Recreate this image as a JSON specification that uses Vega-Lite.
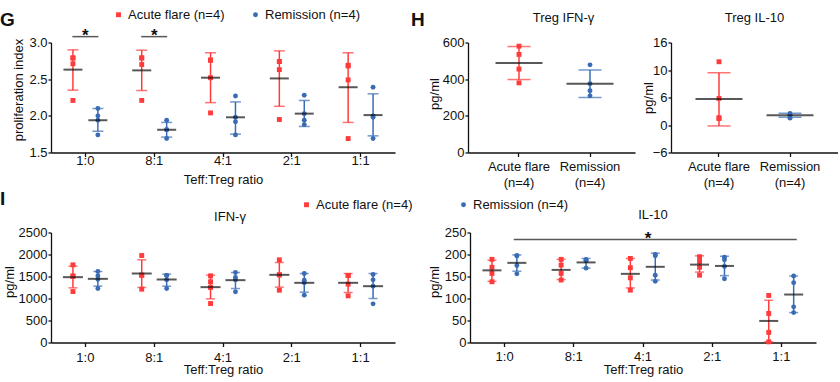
{
  "$schema": "https://vega.github.io/schema/vega-lite/v6.json",
  "padding": {"left": 0, "top": 7.5, "right": 0, "bottom": 0},
  "background": "white",
  "config": {
    "font": "Liberation Sans",
    "view": {"stroke": null},
    "axis": {"domainColor": "#111", "domainWidth": 1.3, "tickColor": "#111", "tickWidth": 1.3, "tickSize": 4, "labelColor": "#111", "labelFontSize": 13, "labelOverlap": false, "titleColor": "#111", "titleFontSize": 13, "titleFontWeight": "normal", "grid": false},
    "axisY": {"tickSize": 3, "labelPadding": 1, "labelOverlap": false},
    "title": {"fontSize": 13, "fontWeight": "normal", "color": "#111"},
    "legend": {"labelFontSize": 13, "labelColor": "#111", "symbolSize": 24, "labelOffset": 3, "padding": 0, "symbolStrokeWidth": 0}
  },
  "datasets": {
    "pts": [
      {"panel":"G","ratio":"1:0","group":"Acute flare (n=4)","value":2.79},
      {"panel":"G","ratio":"1:0","group":"Acute flare (n=4)","value":2.79},
      {"panel":"G","ratio":"1:0","group":"Acute flare (n=4)","value":2.71},
      {"panel":"G","ratio":"1:0","group":"Acute flare (n=4)","value":2.21},
      {"panel":"G","ratio":"1:0","group":"Remission (n=4)","value":2.10},
      {"panel":"G","ratio":"1:0","group":"Remission (n=4)","value":2.00},
      {"panel":"G","ratio":"1:0","group":"Remission (n=4)","value":1.94},
      {"panel":"G","ratio":"1:0","group":"Remission (n=4)","value":1.74},
      {"panel":"G","ratio":"8:1","group":"Acute flare (n=4)","value":2.79},
      {"panel":"G","ratio":"8:1","group":"Acute flare (n=4)","value":2.79},
      {"panel":"G","ratio":"8:1","group":"Acute flare (n=4)","value":2.70},
      {"panel":"G","ratio":"8:1","group":"Acute flare (n=4)","value":2.21},
      {"panel":"G","ratio":"8:1","group":"Remission (n=4)","value":1.94},
      {"panel":"G","ratio":"8:1","group":"Remission (n=4)","value":1.81},
      {"panel":"G","ratio":"8:1","group":"Remission (n=4)","value":1.81},
      {"panel":"G","ratio":"8:1","group":"Remission (n=4)","value":1.69},
      {"panel":"G","ratio":"4:1","group":"Acute flare (n=4)","value":2.76},
      {"panel":"G","ratio":"4:1","group":"Acute flare (n=4)","value":2.76},
      {"panel":"G","ratio":"4:1","group":"Acute flare (n=4)","value":2.52},
      {"panel":"G","ratio":"4:1","group":"Acute flare (n=4)","value":2.04},
      {"panel":"G","ratio":"4:1","group":"Remission (n=4)","value":2.27},
      {"panel":"G","ratio":"4:1","group":"Remission (n=4)","value":1.98},
      {"panel":"G","ratio":"4:1","group":"Remission (n=4)","value":1.92},
      {"panel":"G","ratio":"4:1","group":"Remission (n=4)","value":1.74},
      {"panel":"G","ratio":"2:1","group":"Acute flare (n=4)","value":2.74},
      {"panel":"G","ratio":"2:1","group":"Acute flare (n=4)","value":2.74},
      {"panel":"G","ratio":"2:1","group":"Acute flare (n=4)","value":2.63},
      {"panel":"G","ratio":"2:1","group":"Acute flare (n=4)","value":1.95},
      {"panel":"G","ratio":"2:1","group":"Remission (n=4)","value":2.28},
      {"panel":"G","ratio":"2:1","group":"Remission (n=4)","value":2.03},
      {"panel":"G","ratio":"2:1","group":"Remission (n=4)","value":1.94},
      {"panel":"G","ratio":"2:1","group":"Remission (n=4)","value":1.88},
      {"panel":"G","ratio":"1:1","group":"Acute flare (n=4)","value":2.69},
      {"panel":"G","ratio":"1:1","group":"Acute flare (n=4)","value":2.68},
      {"panel":"G","ratio":"1:1","group":"Acute flare (n=4)","value":2.49},
      {"panel":"G","ratio":"1:1","group":"Acute flare (n=4)","value":1.69},
      {"panel":"G","ratio":"1:1","group":"Remission (n=4)","value":2.39},
      {"panel":"G","ratio":"1:1","group":"Remission (n=4)","value":2.00},
      {"panel":"G","ratio":"1:1","group":"Remission (n=4)","value":1.98},
      {"panel":"G","ratio":"1:1","group":"Remission (n=4)","value":1.69},
      {"panel":"HL","group":"Acute flare (n=4)","value":580},
      {"panel":"HL","group":"Acute flare (n=4)","value":535},
      {"panel":"HL","group":"Acute flare (n=4)","value":455},
      {"panel":"HL","group":"Acute flare (n=4)","value":380},
      {"panel":"HL","group":"Remission (n=4)","value":478},
      {"panel":"HL","group":"Remission (n=4)","value":375},
      {"panel":"HL","group":"Remission (n=4)","value":337},
      {"panel":"HL","group":"Remission (n=4)","value":309},
      {"panel":"HR","group":"Acute flare (n=4)","value":13.8},
      {"panel":"HR","group":"Acute flare (n=4)","value":5.8},
      {"panel":"HR","group":"Acute flare (n=4)","value":1.6},
      {"panel":"HR","group":"Acute flare (n=4)","value":1.4},
      {"panel":"HR","group":"Remission (n=4)","value":2.5},
      {"panel":"HR","group":"Remission (n=4)","value":2.15},
      {"panel":"HR","group":"Remission (n=4)","value":2.15},
      {"panel":"HR","group":"Remission (n=4)","value":1.5},
      {"panel":"IL","ratio":"1:0","group":"Acute flare (n=4)","value":1765},
      {"panel":"IL","ratio":"1:0","group":"Acute flare (n=4)","value":1515},
      {"panel":"IL","ratio":"1:0","group":"Acute flare (n=4)","value":1500},
      {"panel":"IL","ratio":"1:0","group":"Acute flare (n=4)","value":1159},
      {"panel":"IL","ratio":"1:0","group":"Remission (n=4)","value":1614},
      {"panel":"IL","ratio":"1:0","group":"Remission (n=4)","value":1515},
      {"panel":"IL","ratio":"1:0","group":"Remission (n=4)","value":1439},
      {"panel":"IL","ratio":"1:0","group":"Remission (n=4)","value":1227},
      {"panel":"IL","ratio":"8:1","group":"Acute flare (n=4)","value":1977},
      {"panel":"IL","ratio":"8:1","group":"Acute flare (n=4)","value":1530},
      {"panel":"IL","ratio":"8:1","group":"Acute flare (n=4)","value":1530},
      {"panel":"IL","ratio":"8:1","group":"Acute flare (n=4)","value":1212},
      {"panel":"IL","ratio":"8:1","group":"Remission (n=4)","value":1523},
      {"panel":"IL","ratio":"8:1","group":"Remission (n=4)","value":1523},
      {"panel":"IL","ratio":"8:1","group":"Remission (n=4)","value":1424},
      {"panel":"IL","ratio":"8:1","group":"Remission (n=4)","value":1227},
      {"panel":"IL","ratio":"4:1","group":"Acute flare (n=4)","value":1515},
      {"panel":"IL","ratio":"4:1","group":"Acute flare (n=4)","value":1379},
      {"panel":"IL","ratio":"4:1","group":"Acute flare (n=4)","value":1250},
      {"panel":"IL","ratio":"4:1","group":"Acute flare (n=4)","value":886},
      {"panel":"IL","ratio":"4:1","group":"Remission (n=4)","value":1591},
      {"panel":"IL","ratio":"4:1","group":"Remission (n=4)","value":1477},
      {"panel":"IL","ratio":"4:1","group":"Remission (n=4)","value":1424},
      {"panel":"IL","ratio":"4:1","group":"Remission (n=4)","value":1152},
      {"panel":"IL","ratio":"2:1","group":"Acute flare (n=4)","value":1879},
      {"panel":"IL","ratio":"2:1","group":"Acute flare (n=4)","value":1538},
      {"panel":"IL","ratio":"2:1","group":"Acute flare (n=4)","value":1538},
      {"panel":"IL","ratio":"2:1","group":"Acute flare (n=4)","value":1189},
      {"panel":"IL","ratio":"2:1","group":"Remission (n=4)","value":1568},
      {"panel":"IL","ratio":"2:1","group":"Remission (n=4)","value":1417},
      {"panel":"IL","ratio":"2:1","group":"Remission (n=4)","value":1356},
      {"panel":"IL","ratio":"2:1","group":"Remission (n=4)","value":1076},
      {"panel":"IL","ratio":"1:1","group":"Acute flare (n=4)","value":1523},
      {"panel":"IL","ratio":"1:1","group":"Acute flare (n=4)","value":1523},
      {"panel":"IL","ratio":"1:1","group":"Acute flare (n=4)","value":1326},
      {"panel":"IL","ratio":"1:1","group":"Acute flare (n=4)","value":1061},
      {"panel":"IL","ratio":"1:1","group":"Remission (n=4)","value":1545},
      {"panel":"IL","ratio":"1:1","group":"Remission (n=4)","value":1424},
      {"panel":"IL","ratio":"1:1","group":"Remission (n=4)","value":1280},
      {"panel":"IL","ratio":"1:1","group":"Remission (n=4)","value":879},
      {"panel":"IR","ratio":"1:0","group":"Acute flare (n=4)","value":189},
      {"panel":"IR","ratio":"1:0","group":"Acute flare (n=4)","value":171},
      {"panel":"IR","ratio":"1:0","group":"Acute flare (n=4)","value":157},
      {"panel":"IR","ratio":"1:0","group":"Acute flare (n=4)","value":138},
      {"panel":"IR","ratio":"1:0","group":"Remission (n=4)","value":197},
      {"panel":"IR","ratio":"1:0","group":"Remission (n=4)","value":197},
      {"panel":"IR","ratio":"1:0","group":"Remission (n=4)","value":175},
      {"panel":"IR","ratio":"1:0","group":"Remission (n=4)","value":156},
      {"panel":"IR","ratio":"8:1","group":"Acute flare (n=4)","value":189},
      {"panel":"IR","ratio":"8:1","group":"Acute flare (n=4)","value":176},
      {"panel":"IR","ratio":"8:1","group":"Acute flare (n=4)","value":157},
      {"panel":"IR","ratio":"8:1","group":"Acute flare (n=4)","value":142},
      {"panel":"IR","ratio":"8:1","group":"Remission (n=4)","value":189},
      {"panel":"IR","ratio":"8:1","group":"Remission (n=4)","value":186},
      {"panel":"IR","ratio":"8:1","group":"Remission (n=4)","value":186},
      {"panel":"IR","ratio":"8:1","group":"Remission (n=4)","value":169},
      {"panel":"IR","ratio":"4:1","group":"Acute flare (n=4)","value":191},
      {"panel":"IR","ratio":"4:1","group":"Acute flare (n=4)","value":170},
      {"panel":"IR","ratio":"4:1","group":"Acute flare (n=4)","value":147},
      {"panel":"IR","ratio":"4:1","group":"Acute flare (n=4)","value":119},
      {"panel":"IR","ratio":"4:1","group":"Remission (n=4)","value":200},
      {"panel":"IR","ratio":"4:1","group":"Remission (n=4)","value":197},
      {"panel":"IR","ratio":"4:1","group":"Remission (n=4)","value":153},
      {"panel":"IR","ratio":"4:1","group":"Remission (n=4)","value":139},
      {"panel":"IR","ratio":"2:1","group":"Acute flare (n=4)","value":195},
      {"panel":"IR","ratio":"2:1","group":"Acute flare (n=4)","value":184},
      {"panel":"IR","ratio":"2:1","group":"Acute flare (n=4)","value":171},
      {"panel":"IR","ratio":"2:1","group":"Acute flare (n=4)","value":153},
      {"panel":"IR","ratio":"2:1","group":"Remission (n=4)","value":194},
      {"panel":"IR","ratio":"2:1","group":"Remission (n=4)","value":188},
      {"panel":"IR","ratio":"2:1","group":"Remission (n=4)","value":173},
      {"panel":"IR","ratio":"2:1","group":"Remission (n=4)","value":145},
      {"panel":"IR","ratio":"1:1","group":"Acute flare (n=4)","value":107},
      {"panel":"IR","ratio":"1:1","group":"Acute flare (n=4)","value":66},
      {"panel":"IR","ratio":"1:1","group":"Acute flare (n=4)","value":23},
      {"panel":"IR","ratio":"1:1","group":"Acute flare (n=4)","value":1.5},
      {"panel":"IR","ratio":"1:1","group":"Remission (n=4)","value":151},
      {"panel":"IR","ratio":"1:1","group":"Remission (n=4)","value":136},
      {"panel":"IR","ratio":"1:1","group":"Remission (n=4)","value":81},
      {"panel":"IR","ratio":"1:1","group":"Remission (n=4)","value":68}
    ],
    "summ": [
      {"panel":"G","ratio":"1:0","group":"Acute flare (n=4)","mean":2.63,"lo":2.35,"hi":2.90},
      {"panel":"G","ratio":"1:0","group":"Remission (n=4)","mean":1.94,"lo":1.79,"hi":2.10},
      {"panel":"G","ratio":"8:1","group":"Acute flare (n=4)","mean":2.62,"lo":2.345,"hi":2.895},
      {"panel":"G","ratio":"8:1","group":"Remission (n=4)","mean":1.81,"lo":1.71,"hi":1.91},
      {"panel":"G","ratio":"4:1","group":"Acute flare (n=4)","mean":2.52,"lo":2.18,"hi":2.86},
      {"panel":"G","ratio":"4:1","group":"Remission (n=4)","mean":1.98,"lo":1.75,"hi":2.19},
      {"panel":"G","ratio":"2:1","group":"Acute flare (n=4)","mean":2.51,"lo":2.13,"hi":2.886},
      {"panel":"G","ratio":"2:1","group":"Remission (n=4)","mean":2.03,"lo":1.855,"hi":2.21},
      {"panel":"G","ratio":"1:1","group":"Acute flare (n=4)","mean":2.39,"lo":1.91,"hi":2.86},
      {"panel":"G","ratio":"1:1","group":"Remission (n=4)","mean":2.01,"lo":1.727,"hi":2.30},
      {"panel":"HL","group":"Acute flare (n=4)","mean":488,"lo":398,"hi":578},
      {"panel":"HL","group":"Remission (n=4)","mean":375,"lo":300,"hi":450},
      {"panel":"HR","group":"Acute flare (n=4)","mean":5.7,"lo":-0.2,"hi":11.4},
      {"panel":"HR","group":"Remission (n=4)","mean":2.15,"lo":1.7,"hi":2.58},
      {"panel":"IL","ratio":"1:0","group":"Acute flare (n=4)","mean":1485,"lo":1242,"hi":1735},
      {"panel":"IL","ratio":"1:0","group":"Remission (n=4)","mean":1447,"lo":1280,"hi":1614},
      {"panel":"IL","ratio":"8:1","group":"Acute flare (n=4)","mean":1568,"lo":1250,"hi":1879},
      {"panel":"IL","ratio":"8:1","group":"Remission (n=4)","mean":1432,"lo":1280,"hi":1553},
      {"panel":"IL","ratio":"4:1","group":"Acute flare (n=4)","mean":1258,"lo":992,"hi":1530},
      {"panel":"IL","ratio":"4:1","group":"Remission (n=4)","mean":1417,"lo":1227,"hi":1591},
      {"panel":"IL","ratio":"2:1","group":"Acute flare (n=4)","mean":1538,"lo":1258,"hi":1818},
      {"panel":"IL","ratio":"2:1","group":"Remission (n=4)","mean":1356,"lo":1144,"hi":1568},
      {"panel":"IL","ratio":"1:1","group":"Acute flare (n=4)","mean":1356,"lo":1136,"hi":1568},
      {"panel":"IL","ratio":"1:1","group":"Remission (n=4)","mean":1280,"lo":1000,"hi":1568},
      {"panel":"IR","ratio":"1:0","group":"Acute flare (n=4)","mean":164,"lo":139,"hi":187},
      {"panel":"IR","ratio":"1:0","group":"Remission (n=4)","mean":181,"lo":162,"hi":199},
      {"panel":"IR","ratio":"8:1","group":"Acute flare (n=4)","mean":165,"lo":143,"hi":189},
      {"panel":"IR","ratio":"8:1","group":"Remission (n=4)","mean":182,"lo":169,"hi":191},
      {"panel":"IR","ratio":"4:1","group":"Acute flare (n=4)","mean":156,"lo":124,"hi":191},
      {"panel":"IR","ratio":"4:1","group":"Remission (n=4)","mean":172,"lo":142,"hi":203},
      {"panel":"IR","ratio":"2:1","group":"Acute flare (n=4)","mean":177,"lo":160,"hi":197},
      {"panel":"IR","ratio":"2:1","group":"Remission (n=4)","mean":174,"lo":152,"hi":196},
      {"panel":"IR","ratio":"1:1","group":"Acute flare (n=4)","mean":49,"lo":1.5,"hi":96},
      {"panel":"IR","ratio":"1:1","group":"Remission (n=4)","mean":109,"lo":68,"hi":151}
    ],
    "sig": [
      {"panel":"G","ratio":"1:0","value":3.08},
      {"panel":"G","ratio":"8:1","value":3.08},
      {"panel":"IR","ratio":"4:1","group":"Remission (n=4)","value":234}
    ]
  },
  "spacing": 190,
  "bounds": "flush",
  "resolve": {"legend": {"color": "independent", "shape": "independent"}},
  "vconcat": [
    {
      "spacing": 73,
      "bounds": "flush",
      "resolve": {"legend": {"color": "independent", "shape": "independent"}},
      "hconcat": [
        {
          "width": 344, "height": 110,
          "title": {"text": "G", "anchor": "start", "frame": "group", "baseline": "alphabetic", "fontSize": 19, "fontWeight": "bold", "offset": -36.5, "dx": -51},
          "layer": [
            {"data": {"name": "pts"}, "transform": [{"filter": "datum.panel == 'G'"}],
             "mark": {"type": "point", "filled": true, "size": 24, "opacity": 1},
             "encoding": {
               "x": {"field": "ratio", "type": "nominal", "scale": {"domain": ["1:0","8:1","4:1","2:1","1:1"], "paddingInner": 0, "paddingOuter": 0}, "title": "Teff:Treg ratio", "axis": {"labelAngle": 0, "labelBaseline": "alphabetic", "labelPadding": 8, "titleBaseline": "alphabetic", "titleY": 30.5}},
               "xOffset": {"field": "group", "type": "nominal", "scale": {"domain": ["Acute flare (n=4)","Remission (n=4)"], "paddingInner": 0, "paddingOuter": 0.38}},
               "y": {"field": "value", "type": "quantitative", "scale": {"domain": [1.5, 3], "nice": false}, "title": "proliferation index", "axis": {"values": [1.5, 2, 2.5, 3], "tickCount": 20, "format": ".1f", "labelOverlap": false, "titleX": -26, "titleY": 47}},
               "color": {"field": "group", "type": "nominal", "scale": {"domain": ["Acute flare (n=4)","Remission (n=4)"], "range": ["#ff3b3b","#3a6cb5"]}, "legend": {"title": null, "orient": "none", "legendX": 61, "legendY": -34.5, "direction": "horizontal", "columnPadding": 24}},
               "shape": {"field": "group", "type": "nominal", "scale": {"domain": ["Acute flare (n=4)","Remission (n=4)"], "range": ["square","circle"]}, "legend": {"title": null, "orient": "none", "legendX": 61, "legendY": -34.5, "direction": "horizontal", "columnPadding": 24}}
             }},
            {"data": {"name": "summ"}, "transform": [{"filter": "datum.panel == 'G'"}],
             "mark": {"type": "rule", "strokeWidth": 1.5},
             "encoding": {"x": {"field": "ratio", "type": "nominal"}, "xOffset": {"field": "group", "type": "nominal"}, "y": {"field": "lo", "type": "quantitative"}, "y2": {"field": "hi"}, "color": {"field": "group", "type": "nominal", "legend": null}}},
            {"data": {"name": "summ"}, "transform": [{"filter": "datum.panel == 'G'"}],
             "mark": {"type": "tick", "orient": "horizontal", "size": 11, "thickness": 1.5},
             "encoding": {"x": {"field": "ratio", "type": "nominal"}, "xOffset": {"field": "group", "type": "nominal"}, "y": {"field": "lo", "type": "quantitative"}, "color": {"field": "group", "type": "nominal", "legend": null}}},
            {"data": {"name": "summ"}, "transform": [{"filter": "datum.panel == 'G'"}],
             "mark": {"type": "tick", "orient": "horizontal", "size": 11, "thickness": 1.5},
             "encoding": {"x": {"field": "ratio", "type": "nominal"}, "xOffset": {"field": "group", "type": "nominal"}, "y": {"field": "hi", "type": "quantitative"}, "color": {"field": "group", "type": "nominal", "legend": null}}},
            {"data": {"name": "summ"}, "transform": [{"filter": "datum.panel == 'G'"}],
             "mark": {"type": "tick", "orient": "horizontal", "size": 19, "thickness": 2, "color": "#111"},
             "encoding": {"x": {"field": "ratio", "type": "nominal"}, "xOffset": {"field": "group", "type": "nominal"}, "y": {"field": "mean", "type": "quantitative"}}},
            {"data": {"name": "sig"}, "transform": [{"filter": "datum.panel == 'G'"}],
             "mark": {"type": "tick", "orient": "horizontal", "size": 26, "thickness": 1.5, "color": "#111"},
             "encoding": {"x": {"field": "ratio", "type": "nominal"}, "y": {"field": "value", "type": "quantitative"}}},
            {"data": {"name": "sig"}, "transform": [{"filter": "datum.panel == 'G'"}],
             "mark": {"type": "text", "text": "*", "fontSize": 17, "fontWeight": "bold", "baseline": "alphabetic", "dy": 4, "color": "#111"},
             "encoding": {"x": {"field": "ratio", "type": "nominal"}, "y": {"field": "value", "type": "quantitative"}}}
          ]
        },
        {
          "title": {"text": "H", "anchor": "start", "frame": "group", "baseline": "alphabetic", "fontSize": 19, "fontWeight": "bold", "offset": -33, "dx": -57},
          "spacing": 36,
          "bounds": "flush",
          "hconcat": [
            {
              "width": 167, "height": 110,
              "title": {"text": "Treg IFN-γ", "frame": "group", "anchor": "middle", "baseline": "alphabetic", "dx": 12, "offset": 1.5},
              "layer": [
                {"data": {"name": "pts"}, "transform": [{"filter": "datum.panel == 'HL'"}],
                 "mark": {"type": "point", "filled": true, "size": 24, "opacity": 1},
                 "encoding": {
                   "x": {"field": "group", "type": "nominal", "scale": {"domain": ["Acute flare (n=4)","Remission (n=4)"], "paddingInner": 0, "paddingOuter": 0.176, "align": 0.62}, "title": null, "axis": {"labelAngle": 0, "labelBaseline": "alphabetic", "labelPadding": 14, "labelLineHeight": 16, "labelExpr": "[slice(datum.label, 0, indexof(datum.label, ' (')), slice(datum.label, indexof(datum.label, ' (') + 1)]"}},
                   "y": {"field": "value", "type": "quantitative", "scale": {"domain": [0, 600], "nice": false}, "title": "pg/ml", "axis": {"values": [0, 200, 400, 600], "tickCount": 20, "labelOverlap": false, "titleX": -27, "titleY": 51}},
                   "color": {"field": "group", "type": "nominal", "scale": {"domain": ["Acute flare (n=4)","Remission (n=4)"], "range": ["#ff3b3b","#3a6cb5"]}, "legend": null},
                   "shape": {"field": "group", "type": "nominal", "scale": {"domain": ["Acute flare (n=4)","Remission (n=4)"], "range": ["square","circle"]}, "legend": null}
                 }},
                {"data": {"name": "summ"}, "transform": [{"filter": "datum.panel == 'HL'"}],
                 "mark": {"type": "rule", "strokeWidth": 1.5},
                 "encoding": {"x": {"field": "group", "type": "nominal"}, "y": {"field": "lo", "type": "quantitative"}, "y2": {"field": "hi"}, "color": {"field": "group", "type": "nominal", "legend": null}}},
                {"data": {"name": "summ"}, "transform": [{"filter": "datum.panel == 'HL'"}],
                 "mark": {"type": "tick", "orient": "horizontal", "size": 23, "thickness": 1.5},
                 "encoding": {"x": {"field": "group", "type": "nominal"}, "y": {"field": "lo", "type": "quantitative"}, "color": {"field": "group", "type": "nominal", "legend": null}}},
                {"data": {"name": "summ"}, "transform": [{"filter": "datum.panel == 'HL'"}],
                 "mark": {"type": "tick", "orient": "horizontal", "size": 23, "thickness": 1.5},
                 "encoding": {"x": {"field": "group", "type": "nominal"}, "y": {"field": "hi", "type": "quantitative"}, "color": {"field": "group", "type": "nominal", "legend": null}}},
                {"data": {"name": "summ"}, "transform": [{"filter": "datum.panel == 'HL'"}],
                 "mark": {"type": "tick", "orient": "horizontal", "size": 47, "thickness": 2, "color": "#111"},
                 "encoding": {"x": {"field": "group", "type": "nominal"}, "y": {"field": "mean", "type": "quantitative"}}}
              ]
            },
            {
              "width": 167, "height": 110,
              "title": {"text": "Treg IL-10", "frame": "group", "anchor": "middle", "baseline": "alphabetic", "dx": 0, "offset": 1.5},
              "layer": [
                {"mark": {"type": "rule", "strokeDash": [2, 2], "strokeWidth": 1, "color": "#444"},
                 "encoding": {"y": {"datum": 0, "type": "quantitative"}}},
                {"data": {"name": "pts"}, "transform": [{"filter": "datum.panel == 'HR'"}],
                 "mark": {"type": "point", "filled": true, "size": 24, "opacity": 1},
                 "encoding": {
                   "x": {"field": "group", "type": "nominal", "scale": {"domain": ["Acute flare (n=4)","Remission (n=4)"], "paddingInner": 0, "paddingOuter": 0.176, "align": 0.5}, "title": null, "axis": {"labelAngle": 0, "labelBaseline": "alphabetic", "labelPadding": 14, "labelLineHeight": 16, "labelExpr": "[slice(datum.label, 0, indexof(datum.label, ' (')), slice(datum.label, indexof(datum.label, ' (') + 1)]"}},
                   "y": {"field": "value", "type": "quantitative", "scale": {"domain": [-6, 18], "nice": false}, "title": "pg/ml", "axis": {"values": [-6, 0, 6, 12, 18], "tickCount": 20, "labelOverlap": false, "labelExpr": "datum.value == 18 ? '16' : datum.value == 12 ? '10' : datum.label", "titleX": -16, "titleY": 55}},
                   "color": {"field": "group", "type": "nominal", "scale": {"domain": ["Acute flare (n=4)","Remission (n=4)"], "range": ["#ff3b3b","#3a6cb5"]}, "legend": null},
                   "shape": {"field": "group", "type": "nominal", "scale": {"domain": ["Acute flare (n=4)","Remission (n=4)"], "range": ["square","circle"]}, "legend": null}
                 }},
                {"data": {"name": "summ"}, "transform": [{"filter": "datum.panel == 'HR'"}],
                 "mark": {"type": "rule", "strokeWidth": 1.5},
                 "encoding": {"x": {"field": "group", "type": "nominal"}, "y": {"field": "lo", "type": "quantitative"}, "y2": {"field": "hi"}, "color": {"field": "group", "type": "nominal", "legend": null}}},
                {"data": {"name": "summ"}, "transform": [{"filter": "datum.panel == 'HR'"}],
                 "mark": {"type": "tick", "orient": "horizontal", "size": 23, "thickness": 1.5},
                 "encoding": {"x": {"field": "group", "type": "nominal"}, "y": {"field": "lo", "type": "quantitative"}, "color": {"field": "group", "type": "nominal", "legend": null}}},
                {"data": {"name": "summ"}, "transform": [{"filter": "datum.panel == 'HR'"}],
                 "mark": {"type": "tick", "orient": "horizontal", "size": 23, "thickness": 1.5},
                 "encoding": {"x": {"field": "group", "type": "nominal"}, "y": {"field": "hi", "type": "quantitative"}, "color": {"field": "group", "type": "nominal", "legend": null}}},
                {"data": {"name": "summ"}, "transform": [{"filter": "datum.panel == 'HR'"}],
                 "mark": {"type": "tick", "orient": "horizontal", "size": 47, "thickness": 2, "color": "#111"},
                 "encoding": {"x": {"field": "group", "type": "nominal"}, "y": {"field": "mean", "type": "quantitative"}}}
              ]
            }
          ]
        }
      ]
    },
    {
      "title": {"text": "I", "anchor": "start", "frame": "group", "baseline": "alphabetic", "fontSize": 19, "fontWeight": "bold", "offset": -21.5, "dy": 4, "dx": -51},
      "spacing": 75,
      "bounds": "flush",
      "resolve": {"legend": {"color": "independent", "shape": "independent"}},
      "hconcat": [
        {
          "width": 344, "height": 110,
          "title": {"text": "IFN-γ", "frame": "group", "anchor": "middle", "baseline": "alphabetic", "dx": 7, "offset": -35.5},
          "layer": [
            {"data": {"name": "pts"}, "transform": [{"filter": "datum.panel == 'IL'"}],
             "mark": {"type": "point", "filled": true, "size": 24, "opacity": 1},
             "encoding": {
               "x": {"field": "ratio", "type": "nominal", "scale": {"domain": ["1:0","8:1","4:1","2:1","1:1"], "paddingInner": 0, "paddingOuter": 0}, "title": "Teff:Treg ratio", "axis": {"labelAngle": 0, "labelBaseline": "alphabetic", "labelPadding": 15, "titleBaseline": "alphabetic", "titleY": 30.5}},
               "xOffset": {"field": "group", "type": "nominal", "scale": {"domain": ["Acute flare (n=4)","Remission (n=4)"], "paddingInner": 0, "paddingOuter": 0.38}},
               "y": {"field": "value", "type": "quantitative", "scale": {"domain": [0, 2500], "nice": false}, "title": "pg/ml", "axis": {"values": [0, 500, 1000, 1500, 2000, 2500], "tickCount": 20, "format": "d", "labelOverlap": false, "titleX": -35, "titleY": 49}},
               "color": {"field": "group", "type": "nominal", "scale": {"domain": ["Acute flare (n=4)","Remission (n=4)"], "range": ["#ff3b3b","#3a6cb5"]}, "legend": {"title": null, "orient": "none", "legendX": 249, "legendY": -34.5, "direction": "horizontal", "columnPadding": 44}},
               "shape": {"field": "group", "type": "nominal", "scale": {"domain": ["Acute flare (n=4)","Remission (n=4)"], "range": ["square","circle"]}, "legend": {"title": null, "orient": "none", "legendX": 249, "legendY": -34.5, "direction": "horizontal", "columnPadding": 44}}
             }},
            {"data": {"name": "summ"}, "transform": [{"filter": "datum.panel == 'IL'"}],
             "mark": {"type": "rule", "strokeWidth": 1.5},
             "encoding": {"x": {"field": "ratio", "type": "nominal"}, "xOffset": {"field": "group", "type": "nominal"}, "y": {"field": "lo", "type": "quantitative"}, "y2": {"field": "hi"}, "color": {"field": "group", "type": "nominal", "legend": null}}},
            {"data": {"name": "summ"}, "transform": [{"filter": "datum.panel == 'IL'"}],
             "mark": {"type": "tick", "orient": "horizontal", "size": 9, "thickness": 1.5},
             "encoding": {"x": {"field": "ratio", "type": "nominal"}, "xOffset": {"field": "group", "type": "nominal"}, "y": {"field": "lo", "type": "quantitative"}, "color": {"field": "group", "type": "nominal", "legend": null}}},
            {"data": {"name": "summ"}, "transform": [{"filter": "datum.panel == 'IL'"}],
             "mark": {"type": "tick", "orient": "horizontal", "size": 9, "thickness": 1.5},
             "encoding": {"x": {"field": "ratio", "type": "nominal"}, "xOffset": {"field": "group", "type": "nominal"}, "y": {"field": "hi", "type": "quantitative"}, "color": {"field": "group", "type": "nominal", "legend": null}}},
            {"data": {"name": "summ"}, "transform": [{"filter": "datum.panel == 'IL'"}],
             "mark": {"type": "tick", "orient": "horizontal", "size": 20, "thickness": 2, "color": "#111"},
             "encoding": {"x": {"field": "ratio", "type": "nominal"}, "xOffset": {"field": "group", "type": "nominal"}, "y": {"field": "mean", "type": "quantitative"}}}
          ]
        },
        {
          "width": 346, "height": 110,
          "title": {"text": "IL-10", "frame": "group", "anchor": "middle", "baseline": "alphabetic", "dx": 10, "offset": -5.5},
          "layer": [
            {"data": {"name": "pts"}, "transform": [{"filter": "datum.panel == 'IR'"}],
             "mark": {"type": "point", "filled": true, "size": 24, "opacity": 1},
             "encoding": {
               "x": {"field": "ratio", "type": "nominal", "scale": {"domain": ["1:0","8:1","4:1","2:1","1:1"], "paddingInner": 0, "paddingOuter": 0}, "title": "Teff:Treg ratio", "axis": {"labelAngle": 0, "labelBaseline": "alphabetic", "labelPadding": 14, "titleBaseline": "alphabetic", "titleY": 30.5}},
               "xOffset": {"field": "group", "type": "nominal", "scale": {"domain": ["Acute flare (n=4)","Remission (n=4)"], "paddingInner": 0, "paddingOuter": 0.38}},
               "y": {"field": "value", "type": "quantitative", "scale": {"domain": [0, 250], "nice": false}, "title": "pg/ml", "axis": {"values": [0, 50, 100, 150, 200, 250], "tickCount": 20, "labelOverlap": false, "titleX": -29, "titleY": 49}},
               "color": {"field": "group", "type": "nominal", "scale": {"domain": ["Acute flare (n=4)","Remission (n=4)"], "range": ["#ff3b3b","#3a6cb5"]}, "legend": null},
               "shape": {"field": "group", "type": "nominal", "scale": {"domain": ["Acute flare (n=4)","Remission (n=4)"], "range": ["square","circle"]}, "legend": null}
             }},
            {"data": {"name": "summ"}, "transform": [{"filter": "datum.panel == 'IR'"}],
             "mark": {"type": "rule", "strokeWidth": 1.5},
             "encoding": {"x": {"field": "ratio", "type": "nominal"}, "xOffset": {"field": "group", "type": "nominal"}, "y": {"field": "lo", "type": "quantitative"}, "y2": {"field": "hi"}, "color": {"field": "group", "type": "nominal", "legend": null}}},
            {"data": {"name": "summ"}, "transform": [{"filter": "datum.panel == 'IR'"}],
             "mark": {"type": "tick", "orient": "horizontal", "size": 9, "thickness": 1.5},
             "encoding": {"x": {"field": "ratio", "type": "nominal"}, "xOffset": {"field": "group", "type": "nominal"}, "y": {"field": "lo", "type": "quantitative"}, "color": {"field": "group", "type": "nominal", "legend": null}}},
            {"data": {"name": "summ"}, "transform": [{"filter": "datum.panel == 'IR'"}],
             "mark": {"type": "tick", "orient": "horizontal", "size": 9, "thickness": 1.5},
             "encoding": {"x": {"field": "ratio", "type": "nominal"}, "xOffset": {"field": "group", "type": "nominal"}, "y": {"field": "hi", "type": "quantitative"}, "color": {"field": "group", "type": "nominal", "legend": null}}},
            {"data": {"name": "summ"}, "transform": [{"filter": "datum.panel == 'IR'"}],
             "mark": {"type": "tick", "orient": "horizontal", "size": 19, "thickness": 2, "color": "#111"},
             "encoding": {"x": {"field": "ratio", "type": "nominal"}, "xOffset": {"field": "group", "type": "nominal"}, "y": {"field": "mean", "type": "quantitative"}}},
            {"data": {"name": "sig"}, "transform": [{"filter": "datum.panel == 'IR'"}],
             "mark": {"type": "tick", "orient": "horizontal", "size": 283, "thickness": 1.5, "color": "#111"},
             "encoding": {"x": {"field": "ratio", "type": "nominal"}, "xOffset": {"field": "group", "type": "nominal"}, "y": {"field": "value", "type": "quantitative"}}},
            {"data": {"name": "sig"}, "transform": [{"filter": "datum.panel == 'IR'"}],
             "mark": {"type": "text", "text": "*", "fontSize": 17, "fontWeight": "bold", "baseline": "alphabetic", "dy": 4, "dx": 5, "color": "#111"},
             "encoding": {"x": {"field": "ratio", "type": "nominal"}, "y": {"field": "value", "type": "quantitative"}}}
          ]
        }
      ]
    }
  ]
}
